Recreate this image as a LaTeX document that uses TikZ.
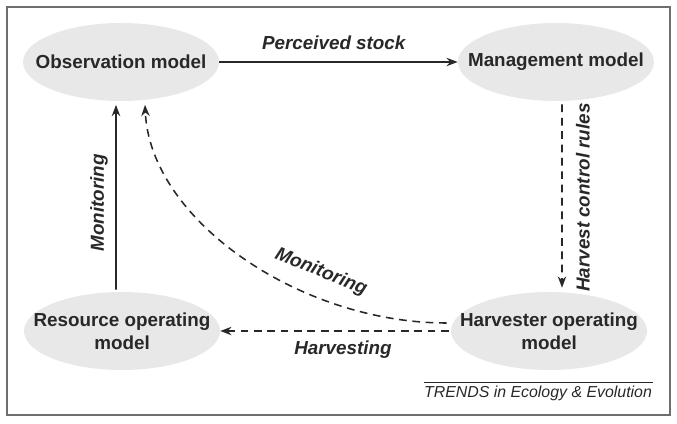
\documentclass[tikz,border=0pt]{standalone}
\usepackage{fontspec}
\setsansfont{Liberation Sans}
\usepackage{tikz}
\usetikzlibrary{arrows,arrows.meta,shapes.geometric,calc}
\definecolor{ellgray}{RGB}{232,232,232}
\definecolor{inkgray}{RGB}{40,40,40}
\definecolor{framegray}{RGB}{110,110,110}

\begin{document}
\begin{tikzpicture}[
    model/.style={ellipse, fill=ellgray, minimum width=4.9cm, minimum height=1.95cm,
        inner xsep=-1cm, inner ysep=-0.3cm, align=center, text=inkgray,
        font=\sffamily\bfseries\fontsize{13.4}{16.4}\selectfont},
    flow/.style={draw=inkgray, line width=1.1pt, -{Stealth[length=8pt,width=6pt]}},
    dashflow/.style={flow, dash pattern=on 5.5pt off 4pt},
    lbl/.style={inner sep=0pt, text=inkgray,
        font=\sffamily\bfseries\itshape\fontsize{13.4}{16}\selectfont}
]

    \useasboundingbox (0,0) rectangle (16.925,10.6);
    \draw[framegray, line width=1.1pt] (0.175,0.225) rectangle (16.75,10.425);

    \node[model] (obs) at (3.025,9.05) {Observation model};
    \node[model] (mgmt) at (13.9,9.05) {Management model};
    \node[model] (res) at (3.05,2.325) {Resource operating\\model};
    \node[model] (harv) at (13.725,2.325) {Harvester operating\\model};

    \draw[flow] (obs.east) -- (mgmt.west) node[lbl, pos=.48, above=0.3cm] {Perceived stock};
    \draw[dashflow] ($(mgmt.south)+(0.15,-0.08)$) -- ($(harv.north)+(0.325,0.1)$);
    \node[lbl, rotate=90] (hcr) at (14.575,5.66) {Harvest control rules};

    \draw[flow] ($(res.north)+(-0.15,0.05)$) -- ($(obs.south)+(-0.125,-0.09)$);
    \node[lbl, rotate=90] (mon1) at (2.475,5.525) {Monitoring};

    \draw[dashflow] ($(harv.west)+(-0.1,0.2)$) .. controls +(-3.675,0) and +(0.125,-2.875) .. ($(obs.south)+(0.6,-0.09)$);
    \node[lbl, rotate=-22] (mon2) at (8.025,3.8) {Monitoring};

    \draw[dashflow] ($(harv.west)+(-0.05,0)$) -- (res.east);
    \node[lbl] (harvlbl) at (8.575,1.85) {Harvesting};

    \draw[inkgray, line width=0.4pt] (10.6,1.05) -- (16.325,1.05);
    \node[inner sep=0pt, text=inkgray, font=\sffamily\itshape\fontsize{11.3}{13}\selectfont] (src) at (13.45,0.775) {TRENDS in Ecology \& Evolution};

\end{tikzpicture}
\end{document}
